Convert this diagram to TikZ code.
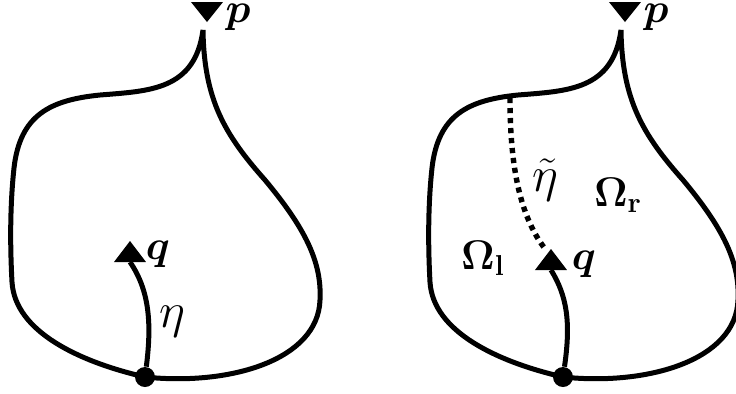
\documentclass[tikz,border=0pt]{standalone}
\usepackage{amsmath,amssymb}
\usepackage{tikz}
\usetikzlibrary{positioning}

\begin{document}
\begin{tikzpicture}[
    x=0.5pt, y=-0.5pt,
    bdry/.style={line width=2.5pt, line cap=round},
    path/.style={line width=2.5pt},
    dotpath/.style={line width=2.7pt, dash pattern=on 2.6pt off 2.4pt},
    root/.style={circle, fill, inner sep=0pt, minimum size=10pt},
    lbl/.style={font=\huge, inner sep=1pt},
    curvelbl/.style={font=\Huge, inner sep=1pt},
    region/.style={font=\huge, inner sep=0pt}
  ]
  \useasboundingbox (0,0) rectangle (736,393);

  % the two domains
  \foreach \dx in {0,418} {
    \draw[bdry, shift={(\dx,0)}] (145,377)
      .. controls (80,362) and (15,332) .. (12,282)
      .. controls (10,245) and (10,205) .. (14,168)
      .. controls (20,115) and (50,100) .. (100,95)
      .. controls (150,91) and (195,90) .. (203,30)
      .. controls (204,100) and (225,135) .. (265,180)
      .. controls (305,228) and (322,262) .. (320,300)
      .. controls (318,360) and (230,386) .. (145,377);
  }

  % left picture
  \node[root] (o1) at (145,377) {};
  \coordinate (q1) at (130,262);
  \coordinate (p1) at (207,22);
  \fill (q1) ++(-16,0) -- ++(32,0) -- ++(-16,-21) -- cycle;
  \fill (p1) -- ++(16,-20) -- ++(-32,0) -- cycle;
  \draw[path] (o1) .. controls (152,322) and (149,290) .. (q1);
  \node[lbl] (ql1) at (158,254) {$\boldsymbol{q}$};
  \node[lbl] (pl1) at (238,17) {$\boldsymbol{p}$};
  \node[curvelbl] (eta) at (172,322) {$\eta$};

  % right picture
  \node[root] (o2) at (563,377) {};
  \coordinate (q2) at (551,270);
  \coordinate (p2) at (625,22);
  \fill (q2) ++(-16,0) -- ++(32,0) -- ++(-16,-21) -- cycle;
  \fill (p2) -- ++(16,-20) -- ++(-32,0) -- cycle;
  \coordinate (top) at (510,98);
  \draw[path] (o2) .. controls (571,322) and (567,296) .. (q2);
  \draw[dotpath] (top) .. controls (510,160) and (518,215) .. (546,250);
  \node[lbl] (ql2) at (584,264) {$\boldsymbol{q}$};
  \node[lbl] (pl2) at (656,17) {$\boldsymbol{p}$};
  \node[curvelbl] (etat) at (545,180) {$\tilde{\eta}$};
  \node[region] (omr) at (618,195) {$\boldsymbol{\Omega}_{\mathbf{r}}$};
  \node[region] (oml) at (483,258) {$\boldsymbol{\Omega}_{\mathbf{l}}$};
\end{tikzpicture}
\end{document}
